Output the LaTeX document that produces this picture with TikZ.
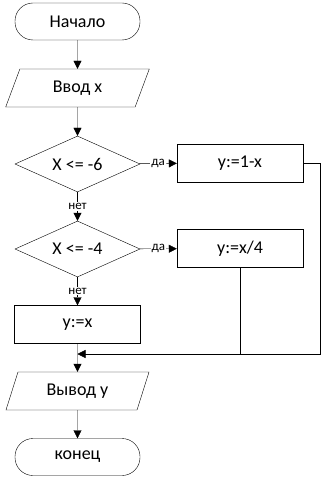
\documentclass[tikz,border=0pt]{standalone}
\usepackage{fontspec}
\setmainfont{Carlito}
\usetikzlibrary{shapes.geometric,arrows.meta}
\begin{document}
\begin{tikzpicture}[x=1pt, y=-1pt, >={Triangle[length=8pt,width=8pt]},
  every node/.style={font=\fontsize{18}{21}\selectfont},
  term/.style={draw, rounded corners=18pt, minimum width=125pt, minimum height=37pt},
  io/.style={draw, trapezium, trapezium left angle=72, trapezium right angle=108,
    trapezium stretches=true, minimum width=144pt, minimum height=38pt},
  cond/.style={draw, diamond, aspect=2.2, inner sep=0pt, minimum width=125pt, minimum height=56pt},
  act/.style={draw, minimum width=126pt, minimum height=38pt},
  lbl/.style={fill=white, inner sep=1pt, font=\fontsize{13}{15}\selectfont}]
\useasboundingbox (0,0) rectangle (323,484);
\node[term] (start) at (77.5,21.5) {Начало};
\node[io] (inp) at (77.5,88) {Ввод x};
\node[cond] (c1) at (77.5,164) {X <= -6};
\node[act] (y1) at (240,163) {y:=1-x};
\node[cond] (c2) at (77.5,249) {X <= -4};
\node[act] (y2) at (240,248.5) {y:=x/4};
\node[act] (y3) at (77.5,324.5) {y:=x};
\node[io] (outp) at (77.5,391) {Вывод y};
\node[term] (stop) at (77.5,457) {конец};
\coordinate (join) at (77.5,354);
\coordinate (rail) at (320,354);
\draw[->] (start) -- (inp);
\draw[->] (inp) -- (c1);
\draw[->] (c1) -- node[lbl] {да} (y1);
\draw[->] (c1) -- node[lbl] {нет} (c2);
\draw[->] (c2) -- node[lbl] {да} (y2);
\draw[->] (c2) -- node[lbl] {нет} (y3);
\draw[->] (y1) -| (rail) -- (join);
\draw (y2) -- (y2 |- join);
\draw[->] (y3) -- (outp);
\draw[->] (outp) -- (stop);
\end{tikzpicture}
\end{document}
